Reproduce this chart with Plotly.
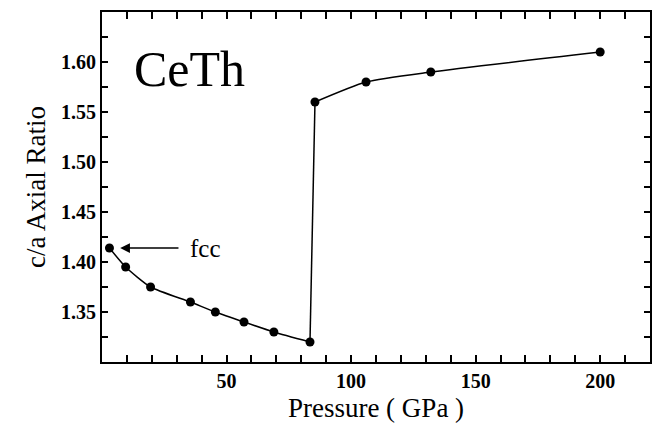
import plotly.graph_objects as go

# Data
pressure = [3, 9.5, 19.5, 35.5, 45.5, 57, 69, 83.5, 85.5, 106, 132, 200]
ca_ratio = [1.414, 1.395, 1.375, 1.36, 1.35, 1.34, 1.33, 1.32, 1.56, 1.58, 1.59, 1.61]
x_ticks = [50, 100, 150, 200]
x_ticklabels = ["50", "100", "150", "200"]
y_ticks = [1.35, 1.40, 1.45, 1.50, 1.55, 1.60]
y_ticklabels = ["1.35", "1.40", "1.45", "1.50", "1.55", "1.60"]
x_minor = [10, 20, 30, 40, 60, 70, 80, 90, 110, 120, 130, 140, 160, 170, 180, 190, 210]
y_minor = [1.325, 1.375, 1.425, 1.475, 1.525, 1.575, 1.625]
x_range = [0, 220]
y_range = [1.30, 1.65]

SERIF = "Liberation Serif"
n_low = 8  # points before the jump

# all tick positions: labelled majors + unlabelled minors
x_all = x_ticks + x_minor
x_text = ["<b>%s</b>" % s for s in x_ticklabels] + [""] * len(x_minor)
y_all = y_ticks + y_minor
y_text = ["<b>%s</b>" % s for s in y_ticklabels] + [""] * len(y_minor)

fig = go.Figure()
line_style = dict(color="black", width=1.5, shape="spline", smoothing=0.6)
fig.add_trace(go.Scatter(x=pressure[:n_low], y=ca_ratio[:n_low], mode="lines",
                         line=line_style, showlegend=False, hoverinfo="skip"))
fig.add_trace(go.Scatter(x=pressure[n_low - 1:n_low + 1], y=ca_ratio[n_low - 1:n_low + 1],
                         mode="lines", line=dict(color="black", width=1.5),
                         showlegend=False, hoverinfo="skip"))
fig.add_trace(go.Scatter(x=pressure[n_low:], y=ca_ratio[n_low:], mode="lines",
                         line=line_style, showlegend=False, hoverinfo="skip"))
fig.add_trace(go.Scatter(x=pressure, y=ca_ratio, mode="markers",
                         marker=dict(color="black", size=9),
                         showlegend=False, hoverinfo="skip"))

tickfont = dict(family=SERIF, size=20, color="black")

fig.update_layout(
    width=654, height=423,
    margin=dict(l=102, r=2, t=12, b=61),
    plot_bgcolor="white", paper_bgcolor="white",
    xaxis=dict(
        range=x_range, tickmode="array", tickvals=x_all, ticktext=x_text,
        showline=True, linecolor="black", linewidth=2, mirror="allticks",
        ticks="inside", ticklen=7, tickwidth=2, tickcolor="black",
        tickfont=tickfont, showgrid=False, zeroline=False,
        title=dict(text="Pressure ( GPa )", font=dict(family=SERIF, size=27, color="black"), standoff=10),
    ),
    yaxis=dict(
        range=y_range, tickmode="array", tickvals=y_all, ticktext=y_text,
        showline=True, linecolor="black", linewidth=2, mirror="allticks",
        ticks="inside", ticklen=6, tickwidth=2, tickcolor="black",
        tickfont=tickfont, showgrid=False, zeroline=False,
        title=dict(text="c/a Axial Ratio", font=dict(family=SERIF, size=27, color="black"), standoff=8),
    ),
)

fig.add_annotation(x=35.3, y=1.593, text="CeTh", showarrow=False,
                   font=dict(family=SERIF, size=50, color="black"),
                   xanchor="center", yanchor="middle")
fig.add_annotation(x=7.3, y=1.414, ax=31.3, ay=1.414, axref="x", ayref="y",
                   text="", showarrow=True, arrowhead=2, arrowsize=1.3,
                   arrowwidth=1.5, arrowcolor="black")
fig.add_annotation(x=34.5, y=1.414, text="fcc", showarrow=False,
                   font=dict(family=SERIF, size=25, color="black"),
                   xanchor="left", yanchor="middle")

fig.write_html("out.html")
